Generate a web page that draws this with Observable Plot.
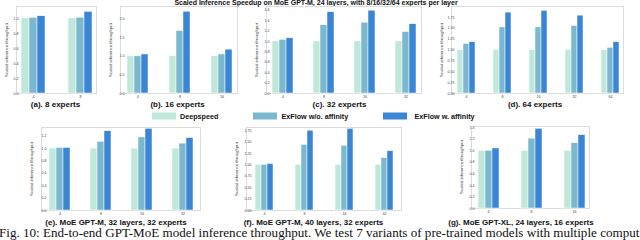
<!DOCTYPE html>
<html><head><meta charset="utf-8">
<script src="https://cdn.jsdelivr.net/npm/d3@7"></script>
<script src="https://cdn.jsdelivr.net/npm/@observablehq/plot@0.6"></script>
<style>
body{margin:0;background:#fff;}
#root{position:relative;width:640px;height:240px;overflow:hidden;font-family:"Liberation Sans",Arial,sans-serif;color:#111;}
.abs{position:absolute;white-space:nowrap;}
.frame{position:absolute;border:1px solid #dcdcdc;box-sizing:border-box;}
.title{font-weight:bold;font-size:7px;transform:translateX(-50%);}
.cap{font-weight:bold;font-size:8px;transform:translate(-50%,-50%);}
.ylab{font-size:4.3px;color:#333;transform:translate(-50%,-50%) rotate(-90deg);}
.leg{font-weight:bold;font-size:7.2px;transform:translateY(-50%);}
.sw{position:absolute;height:7px;width:24px;transform:translateY(-50%);}
.fig{font-family:"Liberation Serif","DejaVu Serif",serif;font-size:13.1px;color:#111;}
</style></head>
<body><div id="root"></div>
<script>
// ---- data ----
const series = ["Deepspeed", "ExFlow w/o. affinity", "ExFlow w. affinity"];
const colors = ["#bfe8db", "#7ab8d0", "#3a86d5"];

const groupsA = ["4", "8"];
const deepA = [1.0, 1.0];
const woA = [1.01, 1.01];
const wA = [1.03, 1.09];
const ticksA = [0, 0.2, 0.4, 0.6, 0.8, 1.0];

const groupsB = ["4", "8", "16"];
const deepB = [1.0, 1.0, 1.0];
const woB = [1.0, 1.68, 1.05];
const wB = [1.05, 2.2, 1.18];
const ticksB = [0, 0.5, 1.0, 1.5, 2.0];

const groupsC = ["4", "8", "16", "32"];
const deepC = [1.0, 1.0, 1.0, 1.0];
const woC = [1.03, 1.31, 1.36, 1.18];
const wC = [1.06, 1.56, 1.59, 1.33];
const ticksC = [0, 0.2, 0.4, 0.6, 0.8, 1.0, 1.2, 1.4, 1.6];

const groupsD = ["4", "8", "16", "32", "64"];
const deepD = [1.0, 1.0, 1.0, 1.0, 1.0];
const woD = [1.14, 1.52, 1.52, 1.55, 1.05];
const wD = [1.18, 1.86, 1.90, 1.79, 1.18];
const ticksD = [0, 0.25, 0.5, 0.75, 1.0, 1.25, 1.5, 1.75];

const groupsE = ["4", "8", "16", "32"];
const deepE = [1.0, 1.0, 1.0, 1.0];
const woE = [1.01, 1.11, 1.18, 1.08];
const wE = [1.01, 1.28, 1.32, 1.17];
const ticksE = [0, 0.2, 0.4, 0.6, 0.8, 1.0, 1.2];

const groupsF = ["4", "8", "16", "32"];
const deepF = [1.0, 1.0, 1.0, 1.0];
const woF = [1.0, 1.44, 1.42, 1.15];
const wF = [1.02, 1.75, 1.79, 1.30];
const ticksF = [0, 0.25, 0.5, 0.75, 1.0, 1.25, 1.5, 1.75];

const groupsG = ["4", "8", "16"];
const deepG = [1.0, 1.0, 1.0];
const woG = [1.0, 1.21, 1.13];
const wG = [1.04, 1.38, 1.27];
const ticksG = [0, 0.2, 0.4, 0.6, 0.8, 1.0, 1.2, 1.4];

const titleText = "Scaled Inference Speedup on MoE GPT-M, 24 layers, with 8/16/32/64 experts per layer";
const yLabel = "Scaled inference throughput";
const figText = "Fig. 10: End-to-end GPT-MoE model inference throughput. We test 7 variants of pre-trained models with multiple computing";

// ---- layout ----
const panels = [
  {groups: groupsA, vals: [deepA, woA, wA], ticks: ticksA, fmt: ".1f", ymax: 1.16, L: 16, T: 6, R: 97, B: 93, po: 0.1, cap: "(a). 8 experts", capX: 55.5, capY: 104},
  {groups: groupsB, vals: [deepB, woB, wB], ticks: ticksB, fmt: ".1f", ymax: 2.34, L: 120, T: 6, R: 238, B: 93, po: 0.14, cap: "(b). 16 experts", capX: 177.5, capY: 104},
  {groups: groupsC, vals: [deepC, woC, wC], ticks: ticksC, fmt: ".1f", ymax: 1.67, L: 266, T: 6, R: 422, B: 93, po: 0.15, cap: "(c). 32 experts", capX: 339.5, capY: 104},
  {groups: groupsD, vals: [deepD, woD, wD], ticks: ticksD, fmt: ".2f", ymax: 2.0, L: 451, T: 6, R: 624, B: 93, po: 0.15, cap: "(d). 64 experts", capX: 535, capY: 104},
  {groups: groupsE, vals: [deepE, woE, wE], ticks: ticksE, fmt: ".1f", ymax: 1.34, L: 41, T: 127, R: 201, B: 210, po: 0.2, cap: "(e). MoE GPT-M, 32 layers, 32 experts", capX: 116, capY: 222},
  {groups: groupsF, vals: [deepF, woF, wF], ticks: ticksF, fmt: ".2f", ymax: 1.82, L: 246, T: 127, R: 402, B: 210, po: 0.16, cap: "(f). MoE GPT-M, 40 layers, 32 experts", capX: 313.5, capY: 222},
  {groups: groupsG, vals: [deepG, woG, wG], ticks: ticksG, fmt: ".1f", ymax: 1.42, L: 471, T: 126, R: 590, B: 208, po: 0.12, cap: "(g). MoE GPT-XL, 24 layers, 16 experts", capX: 521, capY: 222}
];

const root = document.getElementById("root");
function add(cls, text, css) {
  const d = document.createElement("div");
  d.className = cls;
  if (text != null) d.textContent = text;
  Object.assign(d.style, css);
  root.appendChild(d);
  return d;
}

add("abs title", titleText, {left: "316px", top: "-1px"});

const ml = 22, mr = 2, mt = 2, mb = 10;
for (const p of panels) {
  add("frame", null, {left: p.L + "px", top: p.T + "px", width: (p.R - p.L) + "px", height: (p.B - p.T + 1) + "px"});
  const rows = p.groups.flatMap((g, i) => series.map((s, j) => ({group: g, series: s, value: p.vals[j][i]})));
  const chart = Plot.plot({
    width: ml + (p.R - p.L) + mr,
    height: mt + (p.B - p.T) + mb,
    marginLeft: ml, marginRight: mr, marginTop: mt, marginBottom: mb,
    style: {fontSize: "3.6px", fontFamily: "Liberation Sans, Arial, sans-serif", color: "#444", background: "transparent", overflow: "visible"},
    fx: {domain: p.groups, paddingInner: 0.5, paddingOuter: p.po, label: null, axis: "bottom", tickSize: 0, tickPadding: 2},
    x: {domain: series, axis: null, padding: 0},
    y: {domain: [0, p.ymax], ticks: p.ticks, tickFormat: d3.format(p.fmt), tickSize: 0, tickPadding: 3, label: null},
    color: {domain: series, range: colors},
    marks: [
      Plot.barY(rows, {fx: "group", x: "series", y: "value", fill: "series", stroke: "white", strokeWidth: 0.5})
    ]
  });
  const holder = add("abs", null, {left: (p.L - ml) + "px", top: (p.T - mt) + "px"});
  holder.appendChild(chart);
  add("abs ylab", yLabel, {left: (p.L - 10) + "px", top: ((p.T + p.B) / 2) + "px"});
  add("abs cap", p.cap, {left: p.capX + "px", top: p.capY + "px"});
}

// legend
const legX = [151.5, 253, 383];
const legTX = [180, 281.5, 414.5];
series.forEach((s, i) => {
  add("sw", null, {left: legX[i] + "px", top: "116px", background: colors[i]});
  add("abs leg", s, {left: legTX[i] + "px", top: "116px"});
});

add("abs fig", figText, {left: "-1px", top: "225px"});
</script></body></html>
